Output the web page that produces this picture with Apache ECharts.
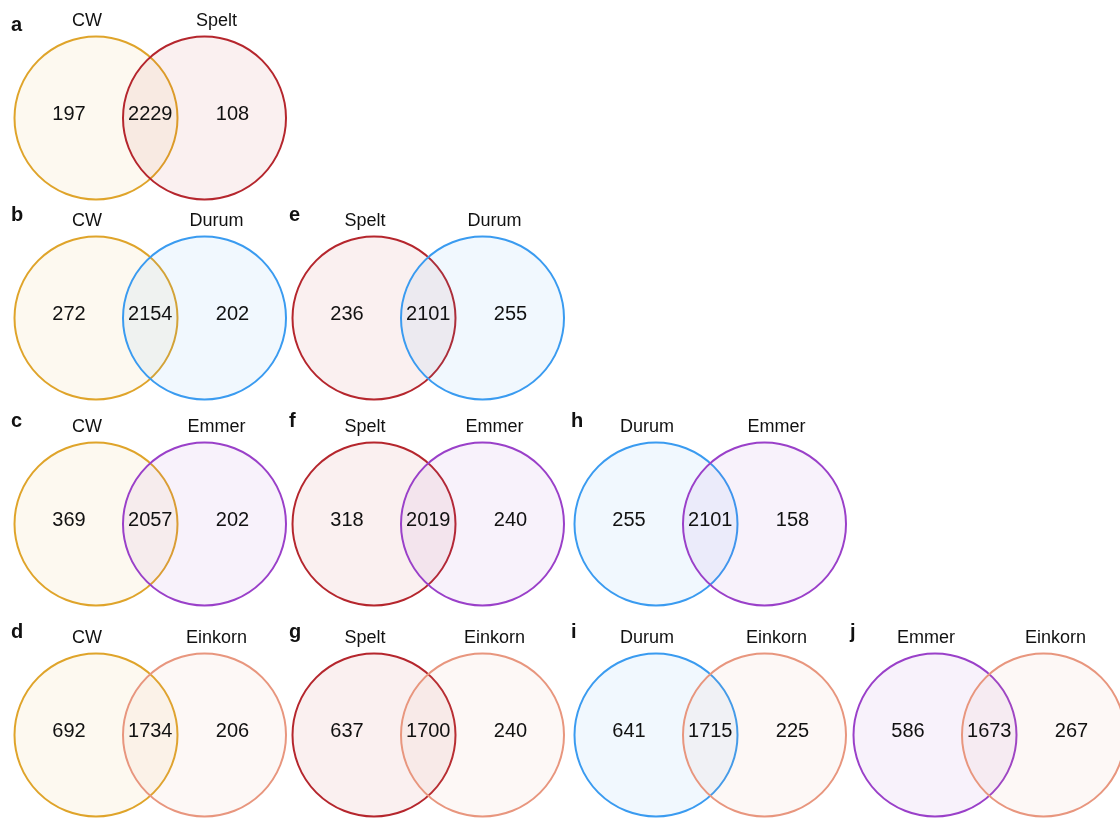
<!DOCTYPE html>
<html>
<head>
<meta charset="utf-8">
<script src="https://cdn.jsdelivr.net/npm/echarts@6/dist/echarts.min.js"></script>
<style>
  html, body { margin: 0; padding: 0; background: #ffffff; }
  #chart { width: 1120px; height: 818px; }
</style>
</head>
<body>
<div id="chart"></div>
<script>
// Wheat groups compared pairwise; one Venn panel per pair
const species = ['CW', 'Spelt', 'Durum', 'Emmer', 'Einkorn'];
const panelLetters = ['a', 'b', 'c', 'd', 'e', 'f', 'g', 'h', 'i', 'j'];
const firstSet  = ['CW', 'CW', 'CW', 'CW', 'Spelt', 'Spelt', 'Spelt', 'Durum', 'Durum', 'Emmer'];
const secondSet = ['Spelt', 'Durum', 'Emmer', 'Einkorn', 'Durum', 'Emmer', 'Einkorn', 'Emmer', 'Einkorn', 'Einkorn'];
const onlyFirst  = [197, 272, 369, 692, 236, 318, 637, 255, 641, 586];
const shared     = [2229, 2154, 2057, 1734, 2101, 2019, 1700, 2101, 1715, 1673];
const onlySecond = [108, 202, 202, 206, 255, 240, 240, 158, 225, 267];

// ---- styling ----
const strokeColors = {
  CW: '#dfa42a',
  Spelt: '#b5262d',
  Durum: '#3a9bf0',
  Emmer: '#9a40c9',
  Einkorn: '#e8967e'
};
const FILL_ALPHA = 0.07;
const FONT = '"Liberation Sans", Arial, Helvetica, sans-serif';

function withAlpha(hex, a) {
  const n = parseInt(hex.slice(1), 16);
  return 'rgba(' + ((n >> 16) & 255) + ',' + ((n >> 8) & 255) + ',' + (n & 255) + ',' + a + ')';
}

// ---- layout: triangle grid, column = first group, row = second group ----
const colX = [96, 374, 656, 935];   // centre of the left circle per column
const rowY = [118, 318, 524, 735];  // circle centre per row
const RADIUS = 81.5;
const GAP = 108.5;                  // distance between the two circle centres

const panelData = panelLetters.map(function (letter, i) {
  const col = species.indexOf(firstSet[i]);
  const row = species.indexOf(secondSet[i]) - 1;
  return [colX[col], rowY[row], i];
});

function txt(x, y, text, size, weight, align) {
  return {
    type: 'text',
    x: x,
    y: y,
    style: {
      text: text,
      fill: '#111111',
      fontSize: size,
      fontWeight: weight || 'normal',
      fontFamily: FONT,
      align: align || 'center',
      verticalAlign: 'middle'
    }
  };
}

function renderPanel(params, api) {
  const i = api.value(2);
  const p1 = api.coord([api.value(0), api.value(1)]);
  const p2 = api.coord([api.value(0) + GAP, api.value(1)]);
  const r = api.size([RADIUS, 0])[0];
  const a = firstSet[i], b = secondSet[i];
  const cy = p1[1];
  const mid = (p1[0] + p2[0]) / 2;
  return {
    type: 'group',
    children: [
      { type: 'circle', shape: { cx: p1[0], cy: cy, r: r },
        style: { fill: withAlpha(strokeColors[a], FILL_ALPHA), stroke: strokeColors[a], lineWidth: 2 } },
      { type: 'circle', shape: { cx: p2[0], cy: cy, r: r },
        style: { fill: withAlpha(strokeColors[b], FILL_ALPHA), stroke: strokeColors[b], lineWidth: 2 } },
      txt(p1[0] - 27, cy - 4, String(onlyFirst[i]), 20),
      txt(mid, cy - 4, String(shared[i]), 20),
      txt(p2[0] + 28, cy - 4, String(onlySecond[i]), 20),
      txt(p1[0] - 9, cy - 97, a, 18),
      txt(p2[0] + 12, cy - 97, b, 18),
      txt(p1[0] - 85, Math.max(cy - 103, 25), panelLetters[i], 20, 'bold', 'left')
    ]
  };
}

const chart = echarts.init(document.getElementById('chart'), null, { renderer: 'canvas' });
chart.setOption({
  animation: false,
  backgroundColor: '#ffffff',
  grid: { left: 0, right: 0, top: 0, bottom: 0 },
  xAxis: { type: 'value', min: 0, max: 1120, show: false },
  yAxis: { type: 'value', min: 0, max: 818, inverse: true, show: false },
  series: [{
    type: 'custom',
    coordinateSystem: 'cartesian2d',
    renderItem: renderPanel,
    encode: { x: 0, y: 1 },
    data: panelData,
    silent: true
  }]
});
</script>
</body>
</html>
